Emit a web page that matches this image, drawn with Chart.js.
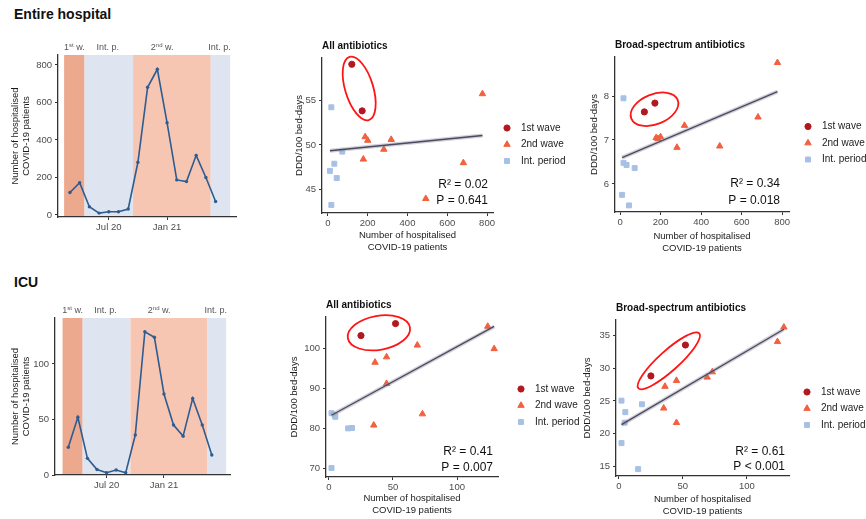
<!DOCTYPE html>
<html>
<head>
<meta charset="utf-8">
<script src="https://cdn.jsdelivr.net/npm/chart.js@4.4.1/dist/chart.umd.min.js"></script>
<style>
html,body{margin:0;padding:0;background:#fff;}
body{width:866px;height:519px;position:relative;overflow:hidden;font-family:"Liberation Sans",Arial,sans-serif;}
canvas{position:absolute;}
.sec{position:absolute;font-weight:bold;font-size:14px;color:#111;line-height:16px;white-space:nowrap;}
</style>
</head>
<body>
<div class="sec" style="left:14px;top:6px">Entire hospital</div>
<div class="sec" style="left:14px;top:274px">ICU</div>
<canvas id="hospLine" width="240" height="230" style="left:0;top:30px"></canvas>
<canvas id="hospAll" width="300" height="230" style="left:280px;top:30px"></canvas>
<canvas id="hospBroad" width="286" height="230" style="left:580px;top:30px"></canvas>
<canvas id="icuLine" width="240" height="229" style="left:0;top:290px"></canvas>
<canvas id="icuAll" width="300" height="229" style="left:280px;top:290px"></canvas>
<canvas id="icuBroad" width="286" height="229" style="left:580px;top:290px"></canvas>
<script>
// ---------------- DATA ----------------
const months = ['Mar 20','Apr 20','May 20','Jun 20','Jul 20','Aug 20','Sep 20','Oct 20','Nov 20','Dec 20','Jan 21','Feb 21','Mar 21','Apr 21','May 21','Jun 21'];
const hospPatients = [120, 172, 44, 10, 17, 17, 32, 281, 681, 777, 492, 187, 178, 318, 200, 72];
const icuPatients  = [25, 52, 15, 5, 2, 4.5, 2, 36, 129, 124, 73, 45, 35, 69, 45, 18];

const hospAllDDD   = [59.0, 53.8, 46.3, 47.1, 54.2, 43.3, 47.9, 49.5, 48.0, 55.7, 44.0, 50.9, 48.4, 50.6, 50.5, 49.25];
const hospBroadDDD = [7.64, 7.84, 5.51, 5.75, 7.95, 6.48, 6.43, 6.83, 7.52, 8.76, 6.86, 7.03, 7.05, 7.33, 7.07, 6.36];
const icuAllDDD    = [103.1, 106.1, 79.9, 82.8, 83.7, 83.2, 70.0, 96.4, 99.8, 105.4, 83.5, 97.75, 80.7, 100.7, 91.1, 80.0];
const icuBroadDDD  = [28.8, 33.5, 14.65, 23.3, 25.05, 21.7, 18.6, 27.2, 36.2, 34.0, 29.4, 28.1, 23.9, 28.6, 21.7, 24.5];

const wave1Idx   = [0, 1];
const wave2Idx   = [7, 8, 9, 10, 11, 12, 13, 14];
const interimIdx = [2, 3, 4, 5, 6, 15];
const groupNames = ['1st wave', '2nd wave', 'Int. period'];

const periodNames   = ['1st w.', 'Int. p.', '2nd w.', 'Int. p.'];
const periodFrom    = [-0.6, 1.5, 6.5, 14.5];
const periodTo      = [1.5, 6.5, 14.5, 16.5];
const periodLabelAt = [0.45, 3.9, 9.5, 15.4];

const lineTickIdx    = [4, 10];
const hospLineTicks  = [0, 200, 400, 600, 800];
const icuLineTicks   = [0, 50, 100];
const hospCountTicks = [0, 200, 400, 600, 800];
const icuCountTicks  = [0, 50, 100];
const hospAllTicks   = [45, 50, 55];
const hospBroadTicks = [6, 7, 8];
const icuAllTicks    = [70, 80, 90, 100];
const icuBroadTicks  = [15, 20, 25, 30, 35];

const hospAllFitX = [10, 777],  hospAllFitY = [49.35, 51.05];
const hospBroadFitX = [10, 777], hospBroadFitY = [6.6, 8.1];
const icuAllFitX = [2, 129],    icuAllFitY = [83.2, 105.4];
const icuBroadFitX = [2, 129],  icuBroadFitY = [21.4, 35.9];

const statR2 = ['0.02', '0.34', '0.41', '0.61'];
const statP  = ['= 0.641', '= 0.018', '= 0.007', '< 0.001'];

const ellipseX = [157, 170, 39, 39];
const ellipseY = [56.3, 7.7, 103.8, 31.1];

// ---------------- STYLE ----------------
const F = '"Liberation Sans", Arial, Helvetica, sans-serif';
const AXIS = '#333333', TICK = '#4D4D4D', TXT = '#1a1a1a';
const COL = { w1: '#B31820', w2: '#F2603F', ip: '#A7C1E5', line: '#2D5C91',
              fit: '#4B4862', fitBand: 'rgba(140,140,155,0.40)', ell: '#FF1414' };
const periodColors = ['#ECA98E', '#DFE5F0', '#F7C6B3', '#DFE5F0'];

function linAxis(min, max, ticks, fitProp, fitVal, title, titleLH, titlePad, tickPad, cb) {
  return {
    type: 'linear', min: min, max: max,
    afterBuildTicks: s => { s.ticks = ticks.map(v => ({ value: v })); },
    afterFit: s => { s[fitProp] = fitVal; },
    grid: { drawOnChartArea: false, drawTicks: true, tickLength: 3, color: AXIS, lineWidth: 1 },
    border: { display: true, color: AXIS, width: 1.3 },
    ticks: { color: TICK, font: { family: F, size: 9.5 }, padding: tickPad, maxRotation: 0, minRotation: 0,
             autoSkip: false, callback: cb || (v => String(v)) },
    title: { display: !!title, text: title, color: TXT, font: { family: F, size: 9.5, lineHeight: titleLH }, padding: titlePad }
  };
}

function drawPeriodLabel(ctx, text, cx, baseY) {
  const m = text.match(/^(\d+)(st|nd|rd|th)(.*)$/);
  const big = '9px ' + F, small = '6px ' + F;
  const parts = m ? [[m[1], big, 0], [m[2], small, -3.5], [m[3], big, 0]] : [[text, big, 0]];
  let w = 0;
  parts.forEach(p => { ctx.font = p[1]; w += ctx.measureText(p[0]).width; });
  let xx = cx - w / 2;
  ctx.textAlign = 'left';
  parts.forEach(p => { ctx.font = p[1]; ctx.fillText(p[0], xx, baseY + p[2]); xx += ctx.measureText(p[0]).width; });
}

function makeLine(id, values, yMin, yMax, yTicks, xMin, xMax, g) {
  const bands = {
    id: 'bands',
    beforeDraw(chart) {
      const { ctx, chartArea: a, scales: { x } } = chart;
      ctx.save();
      periodFrom.forEach((f, i) => {
        const x0 = x.getPixelForValue(f), x1 = x.getPixelForValue(periodTo[i]);
        ctx.fillStyle = periodColors[i];
        ctx.fillRect(x0, a.top, x1 - x0, a.bottom - a.top);
      });
      ctx.restore();
    },
    afterDraw(chart) {
      const { ctx, chartArea: a, scales: { x } } = chart;
      ctx.save();
      ctx.fillStyle = '#555';
      ctx.textBaseline = 'alphabetic';
      periodNames.forEach((name, i) => drawPeriodLabel(ctx, name, x.getPixelForValue(periodLabelAt[i]), a.top - 5));
      ctx.restore();
    }
  };
  return new Chart(document.getElementById(id), {
    type: 'line',
    data: { datasets: [{ data: values.map((v, i) => ({ x: i, y: v })), borderColor: COL.line, backgroundColor: COL.line,
                         borderWidth: 1.6, pointRadius: 1.7, pointBorderWidth: 0, tension: 0, fill: false }] },
    options: {
      responsive: false, animation: false, devicePixelRatio: 1,
      layout: { padding: { top: g.padT, right: g.padR, left: 0, bottom: 0 } },
      plugins: { legend: { display: false }, tooltip: { enabled: false } },
      scales: {
        x: linAxis(xMin, xMax, lineTickIdx, 'height', g.xH, '', 1.2, 0, 2, v => months[v]),
        y: linAxis(yMin, yMax, yTicks, 'width', g.yW, ['Number of hospitalised', 'COVID-19 patients'], 1.25, { top: 9, bottom: 0 }, 3)
      }
    },
    plugins: [bands]
  });
}

function makeScatter(id, xs, ys, fitX, fitY, k, xMin, xMax, xTicks, yMin, yMax, yTicks, g) {
  const pick = idx => idx.map(i => ({ x: xs[i], y: ys[i] }));
  const fit = fitX.map((x, i) => ({ x: x, y: fitY[i] }));
  const extras = {
    id: 'extras',
    afterDatasetsDraw(chart) {
      const { ctx, scales: { x, y } } = chart;
      ctx.save();
      ctx.beginPath();
      ctx.ellipse(x.getPixelForValue(ellipseX[k]), y.getPixelForValue(ellipseY[k]), g.rx, g.ry, g.rot * Math.PI / 180, 0, 2 * Math.PI);
      ctx.strokeStyle = COL.ell; ctx.lineWidth = 1.8; ctx.stroke();
      ctx.restore();
    },
    afterDraw(chart) {
      const { ctx, chartArea: a } = chart;
      ctx.save();
      ctx.fillStyle = '#111'; ctx.textBaseline = 'middle'; ctx.textAlign = 'left';
      ctx.font = 'bold 10px ' + F;
      ctx.fillText(g.title, a.left, a.top - 11.5);
      // legend
      for (let j = 0; j < 3; j++) {
        const d = chart.data.datasets[j];
        const mx = a.right + g.legDx, my = g.legY + j * 16.5;
        ctx.fillStyle = d.backgroundColor; ctx.strokeStyle = d.borderColor; ctx.lineWidth = 1;
        Chart.helpers.drawPoint(ctx, { pointStyle: d.pointStyle, radius: d.pointRadius, borderWidth: 1, rotation: 0 }, mx, my);
        ctx.fillStyle = '#222'; ctx.font = '10px ' + F; ctx.textAlign = 'left';
        ctx.fillText(d.label, mx + 14, my);
      }
      // stats
      ctx.fillStyle = '#111'; ctx.font = '12px ' + F; ctx.textAlign = 'right';
      ctx.fillText('R\u00B2 = ' + statR2[k], a.right + g.statDx, a.bottom + g.statY1);
      ctx.fillText('P ' + statP[k], a.right + g.statDx, a.bottom + g.statY2);
      ctx.restore();
    }
  };
  return new Chart(document.getElementById(id), {
    type: 'scatter',
    data: { datasets: [
      { label: groupNames[0], data: pick(wave1Idx), pointStyle: 'circle', pointRadius: 3.1, backgroundColor: COL.w1, borderColor: COL.w1, borderWidth: 1, order: 3 },
      { label: groupNames[1], data: pick(wave2Idx), pointStyle: 'triangle', pointRadius: 3.7, backgroundColor: COL.w2, borderColor: COL.w2, borderWidth: 1, order: 2 },
      { label: groupNames[2], data: pick(interimIdx), pointStyle: 'rect', pointRadius: 3.5, backgroundColor: COL.ip, borderColor: COL.ip, borderWidth: 1, order: 4 },
      { label: 'fit-se', data: fit, showLine: true, borderColor: COL.fitBand, borderWidth: 4, pointRadius: 0, order: 1 },
      { label: 'fit', data: fit, showLine: true, borderColor: COL.fit, borderWidth: 1.3, pointRadius: 0, order: 0 }
    ] },
    options: {
      responsive: false, animation: false, devicePixelRatio: 1,
      layout: { padding: { top: g.padT, right: g.padR, left: 0, bottom: 0 } },
      plugins: { legend: { display: false }, tooltip: { enabled: false } },
      scales: {
        x: linAxis(xMin, xMax, xTicks, 'height', g.xH, ['Number of hospitalised', 'COVID-19 patients'], 1.3, { top: 0, bottom: g.xTitlePad }, 2),
        y: linAxis(yMin, yMax, yTicks, 'width', g.yW, 'DDD/100 bed-days', 1.2, { top: g.yTitlePad, bottom: 0 }, 3)
      }
    },
    plugins: [extras]
  });
}

makeLine('hospLine', hospPatients, -10.7, 853, hospLineTicks, -1.23, 17.1, { padT: 25, padR: 3, yW: 58, xH: 43 });
makeLine('icuLine', icuPatients, 0, 141.4, icuLineTicks, -1.39, 16.9, { padT: 28, padR: 10, yW: 55, xH: 44 });

makeScatter('hospAll', hospPatients, hospAllDDD, hospAllFitX, hospAllFitY, 0, -30, 830, hospCountTicks, 42.4, 59.7, hospAllTicks,
  { padT: 28, padR: 87, yW: 42, xH: 47, yTitlePad: 14, xTitlePad: 6.5, legDx: 14, legY: 98, statDx: -5, statY1: -28, statY2: -12,
    title: 'All antibiotics', rx: 14, ry: 33, rot: -17 });
makeScatter('hospBroad', hospPatients, hospBroadDDD, hospBroadFitX, hospBroadFitY, 1, -25, 834, hospCountTicks, 5.36, 8.89, hospBroadTicks,
  { padT: 27, padR: 77, yW: 35, xH: 48, yTitlePad: 9, xTitlePad: 5.5, legDx: 19, legY: 96.5, statDx: -9, statY1: -28, statY2: -11,
    title: 'Broad-spectrum antibiotics', rx: 25, ry: 15, rot: -22 });
makeScatter('icuAll', icuPatients, icuAllDDD, icuAllFitX, icuAllFitY, 2, -2.3, 132, icuCountTicks, 67.75, 107.75, icuAllTicks,
  { padT: 27, padR: 82, yW: 46, xH: 42, yTitlePad: 9, xTitlePad: 2, legDx: 23, legY: 99, statDx: -5, statY1: -25, statY2: -9,
    title: 'All antibiotics', rx: 31.5, ry: 17, rot: -10 });
makeScatter('icuBroad', icuPatients, icuBroadDDD, icuBroadFitX, icuBroadFitY, 3, -2.3, 133, icuCountTicks, 13.6, 37.3, icuBroadTicks,
  { padT: 30, padR: 77, yW: 36, xH: 43, yTitlePad: 1.3, xTitlePad: 1, legDx: 18, legY: 102, statDx: -4, statY1: -24, statY2: -9,
    title: 'Broad-spectrum antibiotics', rx: 41, ry: 10, rot: -42 });
</script>
</body>
</html>
